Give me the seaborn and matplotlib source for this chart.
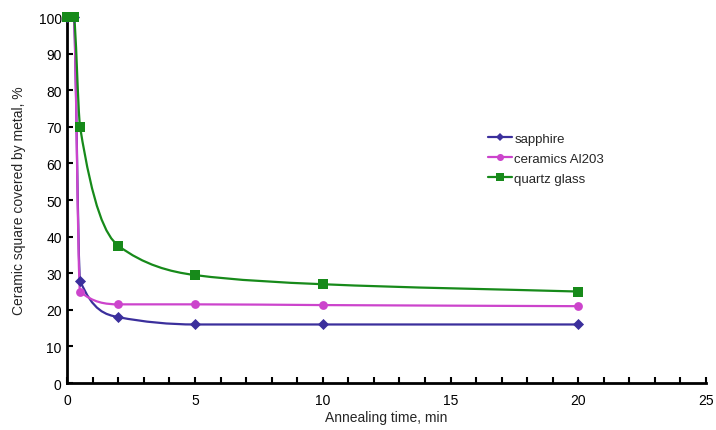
import numpy as np
import pandas as pd
import matplotlib.pyplot as plt
import seaborn as sns
from matplotlib.path import Path
from matplotlib.patches import PathPatch
from matplotlib.lines import Line2D
from matplotlib.ticker import MultipleLocator

time_min = [0, 0.25, 0.5, 2, 5, 10, 20]
sapphire = [100, 100, 28, 18, 16, 16, 16]
ceramics = [100, 100, 25, 21.5, 21.5, 21.3, 21]
quartz = [100, 100, 70, 37.5, 29.5, 27, 25]

series_names = ['sapphire', 'ceramics Al203', 'quartz glass']
series_values = [sapphire, ceramics, quartz]
colors = ['#3b2f9c', '#cc44cc', '#178a1a']
markers = ['D', 'o', 's']
marker_sizes = [32, 40, 55]


def smooth_path(x, y):
    # smoothed line without overshoot: bezier with monotone (pchip) slopes
    x = np.asarray(x, float)
    y = np.asarray(y, float)
    h = np.diff(x)
    d = np.diff(y) / h
    n = len(x)
    m = np.zeros(n)
    m[0] = d[0]
    m[-1] = d[-1]
    for i in range(1, n - 1):
        if d[i - 1] * d[i] > 0:
            w1 = 2 * h[i] + h[i - 1]
            w2 = h[i] + 2 * h[i - 1]
            m[i] = (w1 + w2) / (w1 / d[i - 1] + w2 / d[i])
    verts = [(x[0], y[0])]
    codes = [Path.MOVETO]
    for i in range(n - 1):
        verts += [(x[i] + h[i] / 3, y[i] + m[i] * h[i] / 3),
                  (x[i + 1] - h[i] / 3, y[i + 1] - m[i + 1] * h[i] / 3),
                  (x[i + 1], y[i + 1])]
        codes += [Path.CURVE4] * 3
    return Path(verts, codes)


df = pd.DataFrame({'time': time_min * 3,
                   'value': sapphire + ceramics + quartz,
                   'material': np.repeat(series_names, len(time_min))})

sns.set_style("ticks")
plt.rcParams['font.family'] = ['Liberation Sans', 'DejaVu Sans']

fig = plt.figure(figsize=(7.16, 4.31), dpi=100)
ax = fig.add_axes([0.094, 0.109, 0.892, 0.849])

handles = []
for name, vals, c, m, s in zip(series_names, series_values, colors, markers, marker_sizes):
    ax.add_patch(PathPatch(smooth_path(time_min, vals), facecolor='none',
                           edgecolor=c, lw=1.6, zorder=2, clip_on=False))
    sub = df[df['material'] == name]
    sns.scatterplot(data=sub, x='time', y='value', color=c, marker=m, s=s,
                    edgecolor=c, linewidth=0, ax=ax, zorder=3, clip_on=False,
                    legend=False)
    handles.append(Line2D([0], [0], color=c, lw=1.6, marker=m,
                          markersize=np.sqrt(s) * 0.8, markeredgewidth=0))

ax.set_xlim(0, 25)
ax.set_ylim(0, 100)
ax.xaxis.set_major_locator(MultipleLocator(5))
ax.xaxis.set_minor_locator(MultipleLocator(1))
ax.yaxis.set_major_locator(MultipleLocator(10))
ax.tick_params(axis='both', which='both', direction='in', length=4, width=1.5,
               labelsize=10, colors='black', pad=4)
ax.tick_params(axis='x', pad=7)

for side in ['top', 'right']:
    ax.spines[side].set_visible(False)
for side in ['left', 'bottom']:
    ax.spines[side].set_linewidth(2)
    ax.spines[side].set_color('black')

ax.set_xlabel('Annealing time, min', fontsize=10, labelpad=2)
ax.set_ylabel('Ceramic square covered by metal, %', fontsize=10, labelpad=9)

ax.legend(handles, series_names, loc='upper left', bbox_to_anchor=(0.64, 0.717),
          frameon=False, fontsize=9.5, handlelength=1.8, handletextpad=0.2,
          labelspacing=0.6)

fig.savefig('out.png', dpi=100)
